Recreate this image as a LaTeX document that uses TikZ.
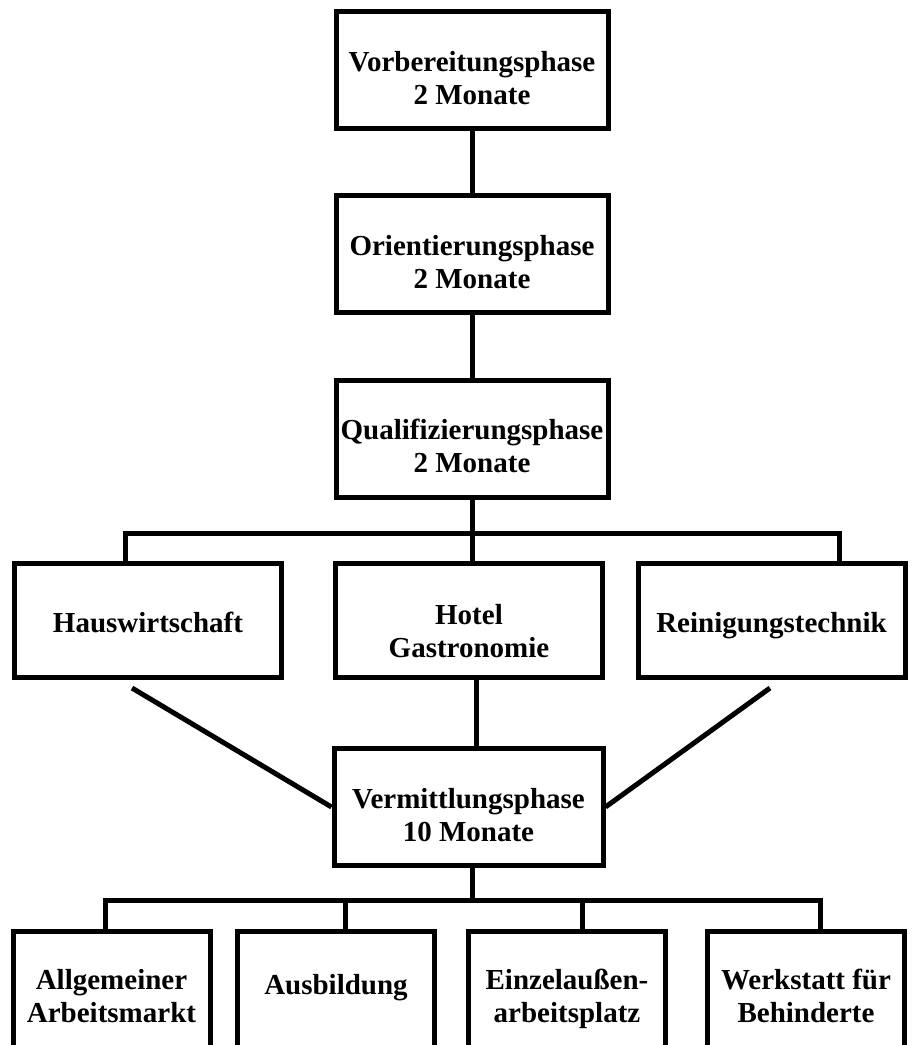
\documentclass[tikz,border=0pt]{standalone}
\usepackage{fontspec}
\setmainfont{Liberation Serif}
\usetikzlibrary{calc,positioning}

\begin{document}
\begin{tikzpicture}[x=1pt, y=-1pt, line cap=butt, line join=miter]

		% Styles (fixed sizes!)
		\tikzset{
			box/.style={
				draw=black, line width=5pt, fill=white, inner sep=0pt,
				align=center, font=\fontsize{29}{33}\selectfont\bfseries
			},
			twoline/.style={text height=#1, text depth=0pt},
			twoline/.default=68pt,
			oneline/.style={text height=24pt, text depth=0pt},
			phase/.style={box, twoline, minimum width=272pt, minimum height=117pt},
			branch/.style={box, minimum width=267pt, minimum height=114pt},
			goal/.style={box, twoline=64pt, minimum width=197pt, minimum height=118pt},
			link/.style={line width=5pt}
		}

		\useasboundingbox (0,0) rectangle (912,1045);

		% Nodes
		\node[phase] (vorb) at (472,70) {Vorbereitungsphase\\2 Monate};
		\node[phase] (orient) at (472,254) {Orientierungsphase\\2 Monate};
		\node[phase] (qual) at (472,438.5) {Qualifizierungsphase\\2 Monate};

		\node[branch, oneline] (haus) at (148,620.5) {Hauswirtschaft};
		\node[branch, twoline=73pt] (hotel) at (469,620.5) {Hotel\\Gastronomie};
		\node[branch, oneline] (rein) at (771.5,620.5) {Reinigungstechnik};

		\node[phase, minimum width=269pt] (verm) at (468.5,807) {Vermittlungsphase\\10 Monate};

		\node[goal] (allg) at (111.5,990.8) {Allgemeiner\\Arbeitsmarkt};
		\node[goal, text height=8pt] (ausb) at (336,990.8) {Ausbildung};
		\node[goal] (einz) at (567,990.8) {Einzelaußen-\\arbeitsplatz};
		\node[goal] (werk) at (806,990.8) {Werkstatt für\\Behinderte};

		% Forks
		\coordinate (forkL) at (125,533);
		\coordinate (forkR) at (839.5,533);
		\coordinate (hv) at (476,700);
		\coordinate (vb) at (472,900);
		\foreach \g/\x in {allg/105.5, ausb/345.7, einz/582.5, werk/820}
			\coordinate (d\g) at (\x,900);

		% Connectors
		\draw[link] (vorb) -- (orient);
		\draw[link] (orient) -- (qual);
		\draw[link] (qual.south) -- (qual.south |- hotel.north);
		\draw[link] (forkL |- haus.north) -- (forkL) -- (forkR) -- (forkR |- rein.north);

		\draw[link] ($(haus.south)+(-16,8)$) -- (verm.west);
		\draw[link] (hv |- hotel.south) -- (hv |- verm.north);
		\draw[link] ($(rein.south)+(-1.5,8)$) -- (verm.east);

		\draw[link] (vb |- verm.south) -- (vb);
		\draw[link] (dallg |- allg.north) -- (dallg) -- (dwerk) -- (dwerk |- werk.north);
		\draw[link] (dausb) -- (dausb |- ausb.north);
		\draw[link] (deinz) -- (deinz |- einz.north);

	\end{tikzpicture}
\end{document}
